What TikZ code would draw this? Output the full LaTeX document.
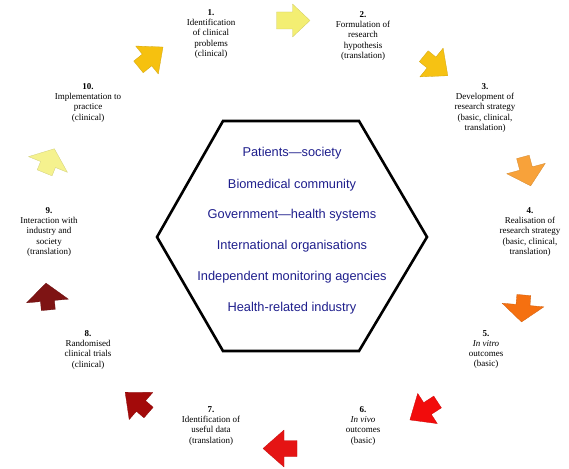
\documentclass[tikz,border=0pt]{standalone}
\usepackage{fontspec}
\setmainfont{Liberation Serif}
\newfontfamily\hexfont{Liberation Sans}
\definecolor{navytxt}{RGB}{30,30,140}
\definecolor{cA}{HTML}{F6C10F}
\definecolor{cB}{HTML}{F3EE72}
\definecolor{cC}{HTML}{F6C213}
\definecolor{cD}{HTML}{F8A23A}
\definecolor{cE}{HTML}{F57010}
\definecolor{cF}{HTML}{F20C0C}
\definecolor{cG}{HTML}{E51414}
\definecolor{cH}{HTML}{A30A0A}
\definecolor{cI}{HTML}{7E1414}
\definecolor{cJ}{HTML}{F5F28E}
\newcommand{\blkarrow}[8]{%
  \begin{scope}[shift={(#1,#2)}, rotate={0-(#3)}]
    \fill[#8, draw=#8!85!black, line width=0.3pt, line join=round]
      (-#7,-#6) -- (0,-#6) -- (0,-#4) -- (#5,0) -- (0,#4) -- (0,#6) -- (-#7,#6) -- cycle;
  \end{scope}}
\begin{document}
\begin{tikzpicture}[x=1pt,y=-1pt,
  lbl/.style={font=\fontsize{9}{10.3}\selectfont, align=center, anchor=north, inner sep=0pt},
  hx/.style={font=\hexfont\fontsize{12.8}{14}\selectfont, text=navytxt, anchor=base, inner sep=0pt}]
\useasboundingbox (0,0) rectangle (569,468);
% hexagon
\coordinate (h1) at (223,121);
\coordinate (h2) at (359,121);
\coordinate (h3) at (427,237);
\coordinate (h4) at (359,351);
\coordinate (h5) at (223,351);
\coordinate (h6) at (157,237);
\draw[line width=2.6pt, line join=miter] (h1) -- (h2) -- (h3) -- (h4) -- (h5) -- (h6) -- cycle;
\node[hx] (t1) at (292,156.5) {Patients—society};
\node[hx] (t2) at (292,188.5) {Biomedical community};
\node[hx] (t3) at (292,218.5) {Government—health systems};
\node[hx] (t4) at (292,249.5) {International organisations};
\node[hx] (t5) at (292,280.5) {Independent monitoring agencies};
\node[hx] (t6) at (292,311.5) {Health-related industry};
% labels
\node[lbl] (l1) at (211,9) {\textbf{1.}\\Identification\\of clinical\\problems\\(clinical)};
\node[lbl] (l2) at (363,11) {\textbf{2.}\\Formulation of\\research\\hypothesis\\(translation)};
\node[lbl] (l3) at (485,83) {\textbf{3.}\\Development of\\research strategy\\(basic, clinical,\\translation)};
\node[lbl] (l4) at (530,207) {\textbf{4.}\\Realisation of\\research strategy\\(basic, clinical,\\translation)};
\node[lbl] (l5) at (486,330) {\textbf{5.}\\\textit{In vitro}\\outcomes\\(basic)};
\node[lbl] (l6) at (363,406) {\textbf{6.}\\\textit{In vivo}\\outcomes\\(basic)};
\node[lbl] (l7) at (211,406) {\textbf{7.}\\Identification of\\useful data\\(translation)};
\node[lbl] (l8) at (88,330) {\textbf{8.}\\Randomised\\clinical trials\\(clinical)};
\node[lbl] (l9) at (49,207) {\textbf{9.}\\Interaction with\\industry and\\society\\(translation)};
\node[lbl] (l10) at (88,83) {\textbf{10.}\\Implementation to\\practice\\(clinical)};
% arrows: base-mid x, y, image angle, head half-width, head length, shaft half-width, shaft length, colour
\blkarrow{147}{60}{-39}{18}{20.6}{7.5}{11}{cA}
\blkarrow{292.5}{20.5}{0}{16.5}{17.5}{8.5}{16}{cB}
\blkarrow{431.5}{62.5}{39}{18.5}{21}{7}{10}{cC}
\blkarrow{526}{168.5}{75}{20}{18}{6.5}{12}{cD}
\blkarrow{523}{305}{95}{21}{17}{7}{10}{cE}
\blkarrow{427.5}{408.5}{147}{18}{21}{7}{12}{cF}
\blkarrow{284}{448.5}{180}{18.5}{21}{8}{13}{cG}
\blkarrow{141}{406}{-139}{18}{21}{7}{10}{cH}
\blkarrow{47.5}{301}{-95}{21}{18}{7}{9}{cI}
\blkarrow{48}{164.5}{-68}{21}{17}{8}{9}{cJ}
\end{tikzpicture}
\end{document}
